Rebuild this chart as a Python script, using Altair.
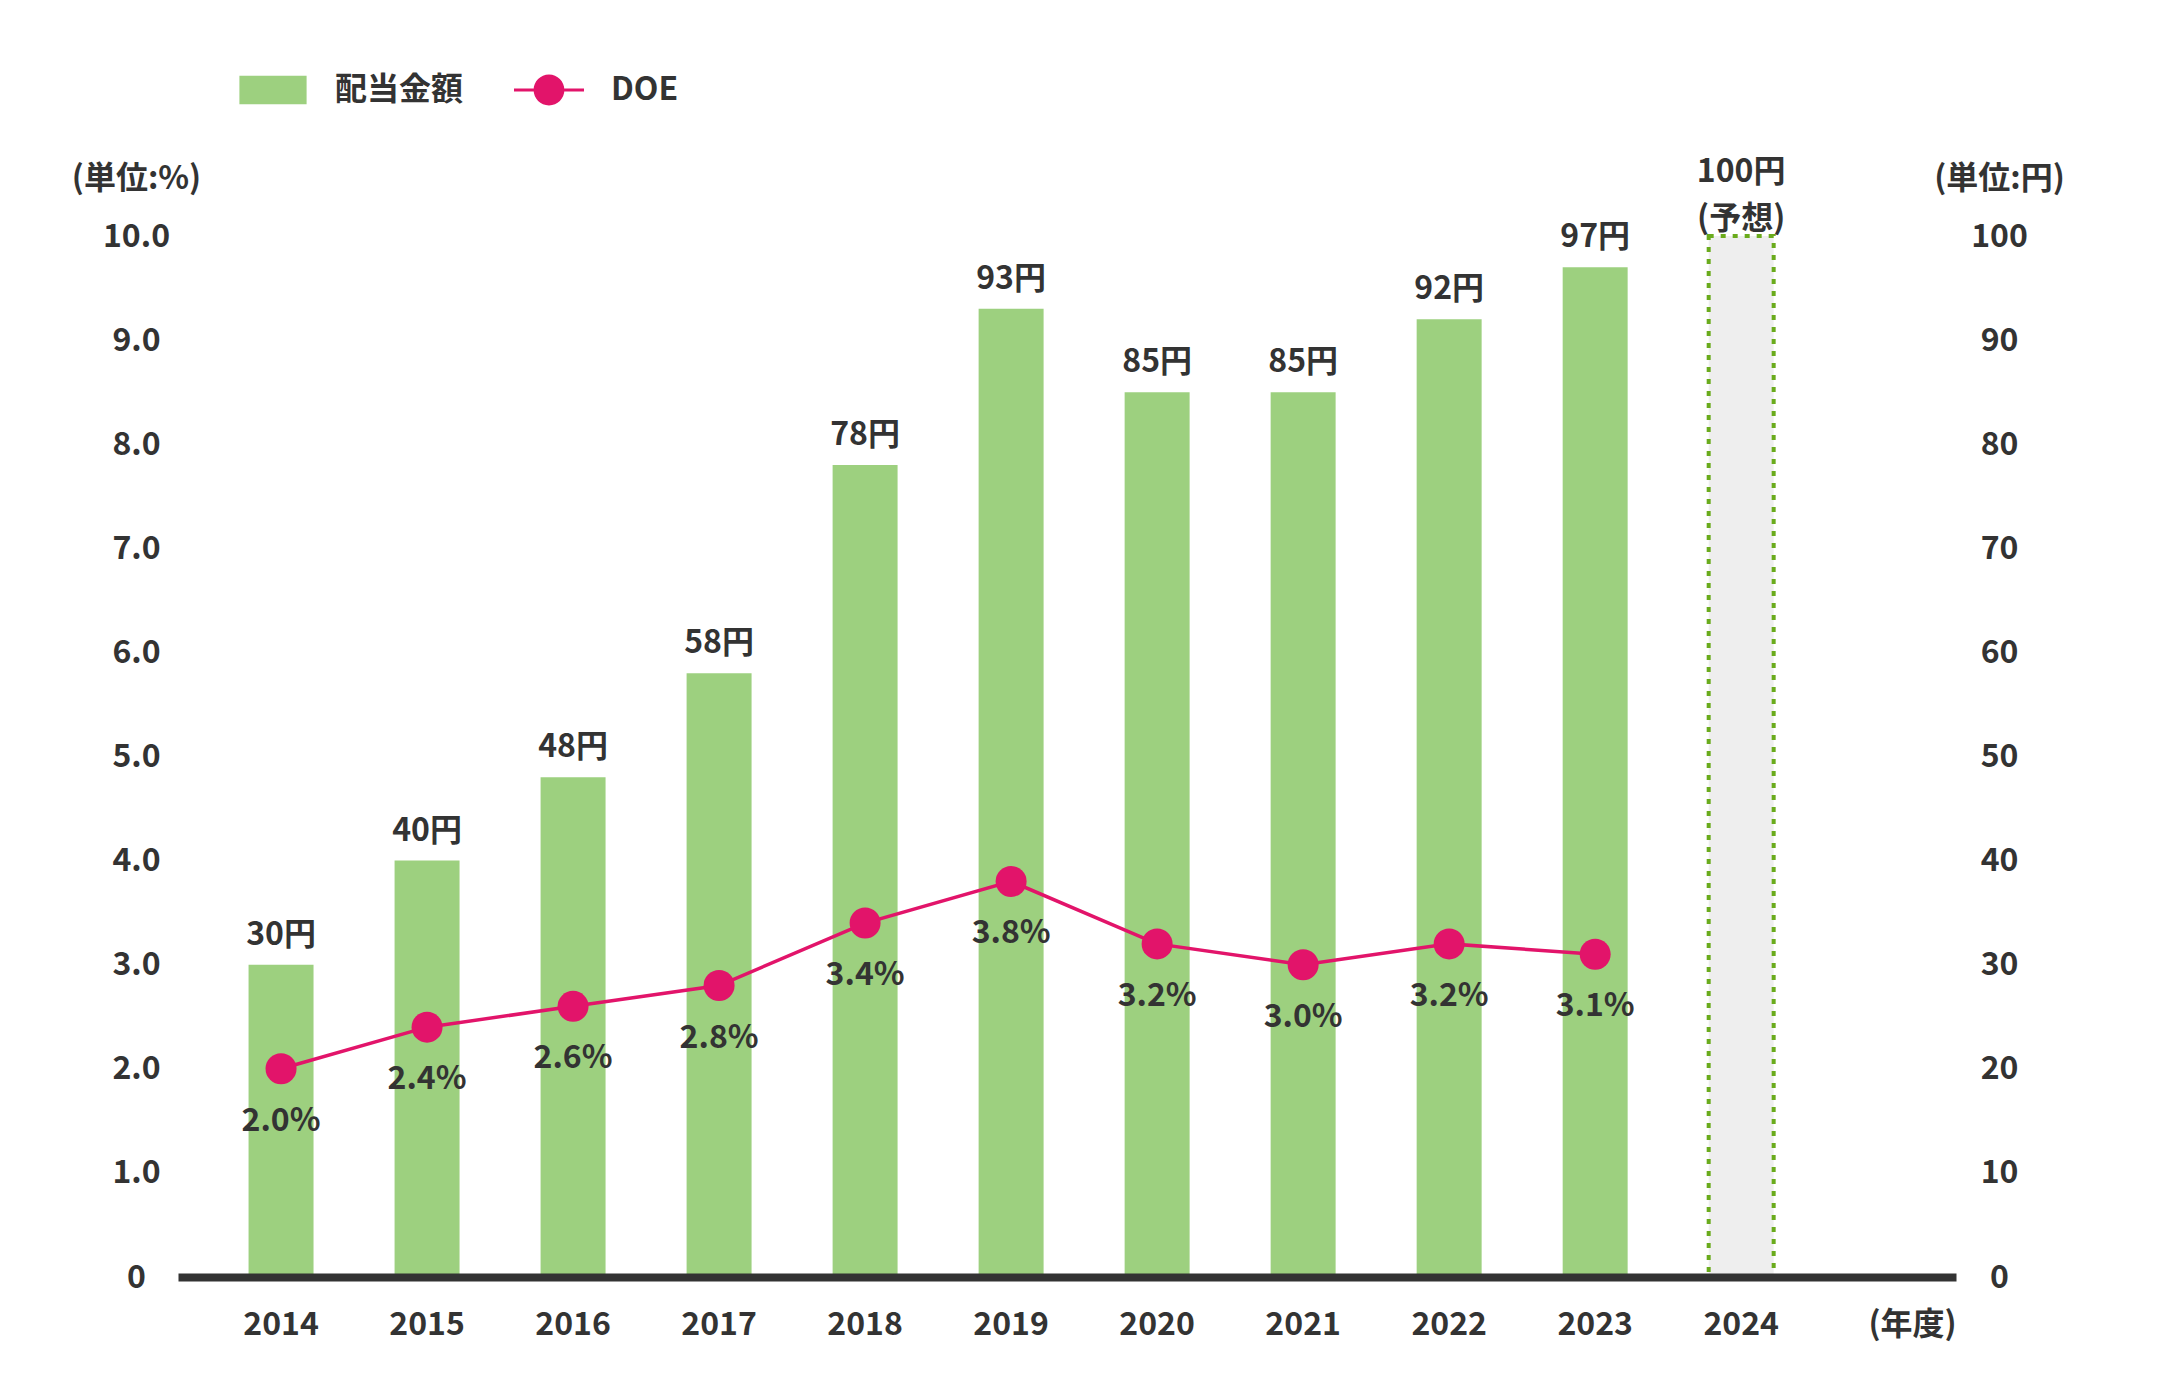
import altair as alt
import pandas as pd

# ---- data ----
years = ["2014", "2015", "2016", "2017", "2018", "2019", "2020", "2021", "2022", "2023"]
dividend = [30, 40, 48, 58, 78, 93, 85, 85, 92, 97]
doe = [2.0, 2.4, 2.6, 2.8, 3.4, 3.8, 3.2, 3.0, 3.2, 3.1]
forecast_year = ["2024"]
forecast_dividend = [100]
forecast_note = ["(予想)"]
series_names = ["配当金額", "DOE"]
left_ticks = [0, 1, 2, 3, 4, 5, 6, 7, 8, 9, 10]
right_ticks = [0, 10, 20, 30, 40, 50, 60, 70, 80, 90, 100]

FONT = "Noto Sans CJK JP"
TEXT = "#333333"
GREEN = "#9dd07f"
PINK = "#e2146a"
DASH_GREEN = "#6aab1c"
FS = 32

bars_df = pd.DataFrame({
    "year": years,
    "dividend": dividend,
    "label": [f"{v}円" for v in dividend],
})
fc_df = pd.DataFrame({
    "year": forecast_year,
    "dividend": forecast_dividend,
    "label": [f"{v}円\n{n}" for v, n in zip(forecast_dividend, forecast_note)],
})
doe_df = pd.DataFrame({
    "year": years,
    "doe": doe,
    "label": [f"{v:.1f}%" for v in doe],
})
legend_df = pd.DataFrame({"year": years[:2], "doe": doe[:2], "series": series_names})

all_years = years + forecast_year

x_def = alt.X(
    "year:O",
    scale=alt.Scale(domain=all_years, paddingInner=0.555, paddingOuter=0.866, align=0.279),
    axis=alt.Axis(
        title="(年度)", labelAngle=0, labelBaseline="middle", labelPadding=47,
        domain=True, domainColor=TEXT, domainWidth=8, domainCap="butt",
        titleX=1734, titleY=47, titleAlign="center", titleBaseline="middle", titleAngle=0,
        zindex=1,
    ),
)

y_right = alt.Y(
    "dividend:Q",
    scale=alt.Scale(domain=[0, 100], nice=False, zero=True),
    axis=alt.Axis(
        orient="right", values=right_ticks, title="(単位:円)",
        labelAlign="center", labelBaseline="middle", labelPadding=43,
        titleAngle=0, titleX=43, titleY=-58, titleAlign="center", titleBaseline="middle",
    ),
)

y_left = alt.Y(
    "doe:Q",
    scale=alt.Scale(domain=[0, 10], nice=False, zero=True),
    axis=alt.Axis(
        orient="left", values=left_ticks, title="(単位:%)",
        labelExpr="datum.value == 0 ? '0' : format(datum.value, '.1f')",
        labelAlign="center", labelBaseline="middle", labelPadding=42,
        titleAngle=0, titleX=-42, titleY=-58, titleAlign="center", titleBaseline="middle",
    ),
)

RECT_PATH = "M-0.96,-0.41H0.96V0.41H-0.96Z"
LINE_DOT_PATH = ("M-1,-0.045H1V0.045H-1Z "
                 "M-0.44,0A0.44,0.44 0 1,1 0.44,0A0.44,0.44 0 1,1 -0.44,0Z")

legend_def = alt.Legend(
    title=None, orient="none", direction="horizontal", legendX=60, legendY=-181,
    symbolSize=4900, labelOffset=27, columnPadding=50, padding=0,
    labelFont=FONT, labelFontSize=FS, labelFontWeight="bold", labelColor=TEXT,
    symbolStrokeWidth=0, symbolOpacity=1,
)

bars = alt.Chart(bars_df).mark_bar(color=GREEN, opacity=1).encode(x=x_def, y=y_right)
forecast_bar = alt.Chart(fc_df).mark_bar(
    fill="#eeeeee", stroke=DASH_GREEN, strokeWidth=4, strokeDash=[5, 7], opacity=1
).encode(x=x_def, y=y_right)
bar_labels = alt.Chart(bars_df).mark_text(
    font=FONT, fontSize=FS, fontWeight="bold", color=TEXT, baseline="middle", dy=-30
).encode(x=x_def, y=y_right, text="label:N")
fc_labels = alt.Chart(fc_df).mark_text(
    font=FONT, fontSize=FS, fontWeight="bold", color=TEXT, baseline="middle", dy=-64,
    lineBreak="\n", lineHeight=47
).encode(x=x_def, y=y_right, text="label:N")

bar_group = alt.layer(bars, forecast_bar, bar_labels, fc_labels)

line = alt.Chart(doe_df).mark_line(color=PINK, strokeWidth=3.5).encode(x=x_def, y=y_left)
points = alt.Chart(doe_df).mark_point(filled=True, size=961, opacity=1, color=PINK).encode(
    x=x_def, y=y_left
)
doe_labels = alt.Chart(doe_df).mark_text(
    font=FONT, fontSize=FS, fontWeight="bold", color=TEXT, baseline="middle", dy=52
).encode(x=x_def, y=y_left, text="label:N")
legend_layer = alt.Chart(legend_df).transform_filter("false").mark_point(
    filled=True, opacity=1
).encode(
    x=x_def, y=y_left,
    color=alt.Color("series:N", scale=alt.Scale(domain=series_names, range=[GREEN, PINK]),
                    legend=legend_def),
    shape=alt.Shape("series:N", scale=alt.Scale(domain=series_names, range=[RECT_PATH, LINE_DOT_PATH]),
                    legend=legend_def),
)

line_group = alt.layer(line, points, doe_labels, legend_layer)

chart = alt.layer(bar_group, line_group).resolve_scale(
    y="independent"
).properties(
    width=1778, height=1041,
    padding={"left": 170, "top": 228, "right": 196, "bottom": 115},
    autosize=alt.AutoSizeParams(type="none"),
    background="white",
).configure_view(stroke=None).configure_axis(
    labelFont=FONT, titleFont=FONT, labelFontSize=FS, titleFontSize=FS,
    labelFontWeight="bold", titleFontWeight="bold", labelColor=TEXT, titleColor=TEXT,
    grid=False, ticks=False, tickSize=0, domain=False,
)

chart.save("out.html", embed_options={"renderer": "svg", "actions": False})
